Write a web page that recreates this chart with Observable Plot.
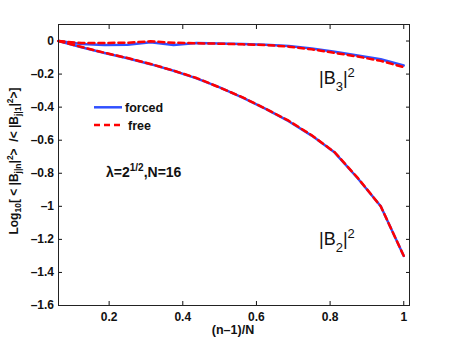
<!DOCTYPE html>
<html>
<head>
<meta charset="utf-8">
<script src="https://cdn.jsdelivr.net/npm/d3@7"></script>
<script src="https://cdn.jsdelivr.net/npm/@observablehq/plot@0.6"></script>
<style>
  html, body { margin: 0; padding: 0; background: #fff; }
  #chart { width: 452px; height: 346px; }
</style>
</head>
<body>
<div id="chart"></div>
<script>
// x = (n-1)/N for N = 16
const xValues = [1/16, 2/16, 3/16, 4/16, 5/16, 6/16, 7/16, 8/16, 9/16, 10/16, 11/16, 12/16, 13/16, 14/16, 15/16, 16/16];
const b2Forced = [0, -0.038, -0.072, -0.104, -0.140, -0.180, -0.226, -0.280, -0.343, -0.410, -0.485, -0.572, -0.675, -0.830, -1.0, -1.30];
const b2Free   = [0, -0.036, -0.071, -0.103, -0.139, -0.179, -0.224, -0.281, -0.341, -0.410, -0.482, -0.570, -0.673, -0.828, -1.0, -1.30];
const b3Forced = [0, -0.018, -0.024, -0.022, -0.008, -0.024, -0.012, -0.015, -0.018, -0.022, -0.030, -0.045, -0.065, -0.088, -0.110, -0.148];
const b3Free   = [0, -0.012, -0.012, -0.010, -0.002, -0.010, -0.014, -0.016, -0.020, -0.024, -0.034, -0.050, -0.072, -0.094, -0.120, -0.158];
const xTicks = [0.2, 0.4, 0.6, 0.8, 1];
const yTicks = [-1.6, -1.4, -1.2, -1, -0.8, -0.6, -0.4, -0.2, 0];
const seriesNames = ["forced", "free"];
const seriesColors = ["#3050ff", "#ff0000"];

const rows = (vals, curve, series) => vals.map((v, i) => ({x: xValues[i], y: v, curve, series}));
const forcedData = [...rows(b2Forced, "B2", "forced"), ...rows(b3Forced, "B3", "forced")];
const freeData = [...rows(b2Free, "B2", "free"), ...rows(b3Free, "B3", "free")];

const fmt = d => d === 0 ? "0" : String(d).replace("-", "\u2013");
const FONT = "'Liberation Sans', Arial, Helvetica, sans-serif";

const chart = Plot.plot({
  width: 452,
  height: 346,
  marginLeft: 58,
  marginRight: 43,
  marginTop: 24,
  marginBottom: 41,
  style: {fontFamily: FONT, fontWeight: "bold", fontSize: "12px", color: "#111", background: "#fff"},
  x: {domain: [0.0625, 1.0156]},
  y: {domain: [-1.6, 0.1]},
  marks: [
    Plot.axisX({anchor: "bottom", ticks: xTicks, tickSize: -4, tickPadding: 11, tickFormat: fmt, label: null}),
    Plot.axisX({anchor: "top", ticks: xTicks, tickSize: -4, tickFormat: () => "", label: null}),
    Plot.axisY({anchor: "left", ticks: yTicks, tickSize: -4, tickPadding: 8.5, tickFormat: fmt, label: null}),
    Plot.axisY({anchor: "right", ticks: yTicks, tickSize: -4, tickFormat: () => "", label: null}),
    Plot.line(forcedData, {x: "x", y: "y", z: "curve", stroke: seriesColors[0], strokeWidth: 2.5}),
    Plot.line(freeData, {x: "x", y: "y", z: "curve", stroke: seriesColors[1], strokeWidth: 2.5, strokeDasharray: "6,4"}),
    Plot.frame({stroke: "#222", strokeWidth: 1})
  ]
});
document.getElementById("chart").appendChild(chart);

const svg = d3.select(chart);
const g = svg.append("g").attr("font-family", FONT).attr("fill", "#111").attr("text-anchor", "start");

// x label
g.append("text").attr("x", 233).attr("y", 334).attr("text-anchor", "middle")
  .attr("font-weight", "bold").attr("font-size", 12.5).text("(n\u20131)/N");

// y label (rotated)
const yl = g.append("text").attr("transform", "translate(18,161) rotate(-90)")
  .attr("text-anchor", "middle").attr("font-weight", "bold").attr("font-size", 12);
yl.append("tspan").text("Log");
yl.append("tspan").attr("font-size", 8.5).attr("dy", 3).text("10");
yl.append("tspan").attr("dy", -3).text("[ < |B");
yl.append("tspan").attr("font-size", 8.5).attr("dy", 3).text("j|n");
yl.append("tspan").attr("dy", -3).text("|");
yl.append("tspan").attr("font-size", 8.5).attr("dy", -5).text("2");
yl.append("tspan").attr("dy", 5).text(">  /< |B");
yl.append("tspan").attr("font-size", 8.5).attr("dy", 3).text("j|1");
yl.append("tspan").attr("dy", -3).text("|");
yl.append("tspan").attr("font-size", 8.5).attr("dy", -5).text("2");
yl.append("tspan").attr("dy", 5).text(">]");

// legend
const lg = g.append("g").attr("font-weight", "bold").attr("font-size", 12.5);
[[107.3, 125], [125, 128]].forEach(([ly, tx], i) => {
  lg.append("line").attr("x1", 94).attr("x2", 122).attr("y1", ly).attr("y2", ly)
    .attr("stroke", seriesColors[i]).attr("stroke-width", 2.5)
    .attr("stroke-dasharray", i === 1 ? "6,4" : null);
  lg.append("text").attr("x", tx).attr("y", ly + 4.5).text(seriesNames[i]);
});

// lambda annotation
const lt = g.append("text").attr("x", 106).attr("y", 176.5).attr("font-weight", "bold").attr("font-size", 14);
lt.append("tspan").text("\u03bb=2");
lt.append("tspan").attr("font-size", 10).attr("dy", -6).text("1/2");
lt.append("tspan").attr("dy", 6).text(",N=16");

// |B3|^2 and |B2|^2 labels
function bLabel(x, y, sub) {
  const t = g.append("text").attr("x", x).attr("y", y).attr("font-weight", "normal").attr("font-size", 18);
  t.append("tspan").text("|B");
  t.append("tspan").attr("font-size", 13).attr("dy", 7).text(sub);
  t.append("tspan").attr("dy", -7).text("|");
  t.append("tspan").attr("font-size", 13).attr("dy", -7).text("2");
}
bLabel(319, 84, "3");
bLabel(319, 245, "2");
</script>
</body>
</html>
